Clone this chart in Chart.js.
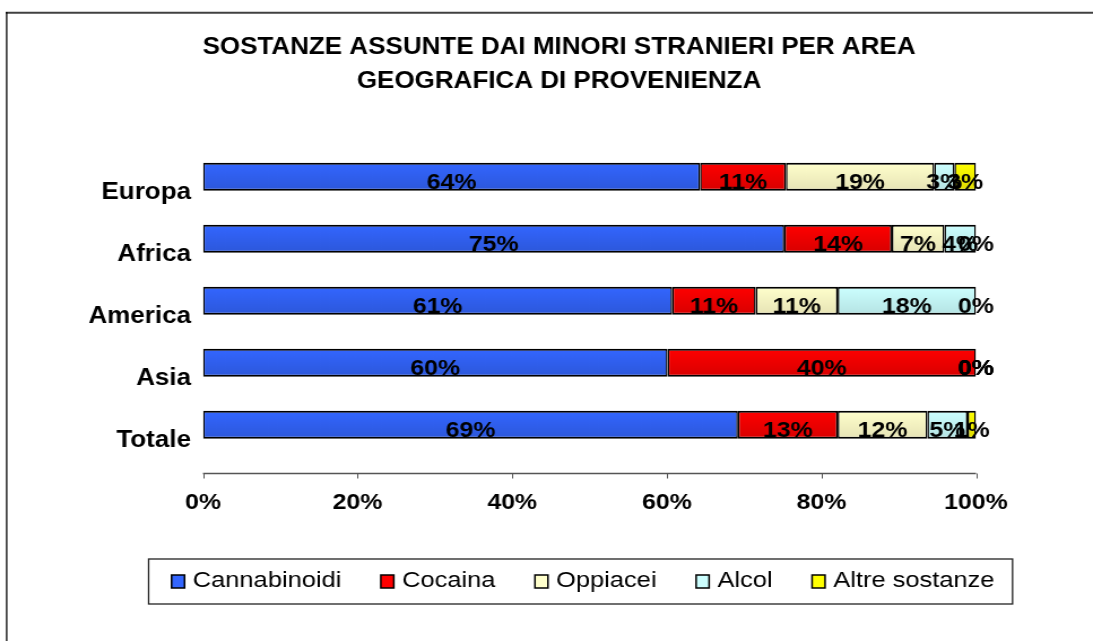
<!DOCTYPE html>
<html lang="it">
<head>
<meta charset="utf-8">
<title>Sostanze assunte dai minori stranieri per area geografica</title>
<script src="https://cdn.jsdelivr.net/npm/chart.js@4.4.1/dist/chart.umd.min.js"></script>
<style>
  html,body{margin:0;padding:0;background:#fff;overflow:hidden}
</style>
</head>
<body>
<!-- il canvas e' largo 967 e viene allargato a 1093 (font "larghi" come nell'originale) -->
<canvas id="grafico" width="967" height="641" style="display:block;width:1093px;height:641px"></canvas>
<script>
// dati (percentuali per area di provenienza)
const aree = ['Europa', 'Africa', 'America', 'Asia', 'Totale'];
const sostanze = ['Cannabinoidi', 'Cocaina', 'Oppiacei', 'Alcol', 'Altre sostanze'];
const cannabinoidi = [64.3, 75.2, 60.7, 60.1, 69.2];
const cocaina      = [11.1, 13.9, 10.8, 39.9, 12.9];
const oppiacei     = [19.2,  6.8, 10.6,  0,   11.6];
const alcol        = [ 2.6,  4.1, 17.9,  0,    5.2];
const altre        = [ 2.8,  0,    0,    0,    1.1];
const tickPerc     = [0, 20, 40, 60, 80, 100];

const serie = [cannabinoidi, cocaina, oppiacei, alcol, altre];
const coloriAlto  = ['#3366FF', '#FF0000', '#FFFFCC', '#CCFFFF', '#FFFF00'];
const coloriBasso = ['#2C57DA', '#D80000', '#E6E3B5', '#B5E3E3', '#DEDA00'];
const FONT = '"Liberation Sans", Arial, sans-serif';

// sfumatura verticale leggera su ogni barra
function sfumatura(i){
  return ctx => {
    const y = ctx.chart.scales.y;
    if(ctx.type !== 'data' || !y) return coloriAlto[i];
    const c = y.getPixelForValue(ctx.dataIndex);
    if(!isFinite(c)) return coloriAlto[i];
    const g = ctx.chart.ctx.createLinearGradient(0, c - 14, 0, c + 14);
    g.addColorStop(0, coloriAlto[i]);
    g.addColorStop(1, coloriBasso[i]);
    return g;
  };
}

// cornice esterna, asse x con tacche, legenda riquadrata
const cornice = {
  id: 'cornice',
  afterLayout(chart){
    // le etichette delle aree escono a sinistra del riquadro dell'asse: niente ritaglio
    chart.scales.y.left = 0;
  },
  beforeDraw(chart){
    const {ctx, width, height} = chart;
    ctx.save();
    ctx.fillStyle = '#fff';
    ctx.fillRect(0, 0, width, height);
    ctx.strokeStyle = '#404040'; ctx.lineWidth = 2;
    ctx.beginPath(); ctx.moveTo(5, 12.7); ctx.lineTo(width, 12.7); ctx.stroke();
    ctx.strokeStyle = '#000'; ctx.lineWidth = 1.3;
    ctx.beginPath(); ctx.moveTo(5.9, 12); ctx.lineTo(5.9, height); ctx.stroke();
    ctx.restore();
  },
  afterDraw(chart){
    const {ctx, chartArea} = chart;
    const x = chart.scales.x;
    const yAsse = chartArea.bottom + 17.7;
    ctx.save();
    ctx.strokeStyle = '#555'; ctx.lineWidth = 1.5;
    ctx.beginPath(); ctx.moveTo(chartArea.left, yAsse); ctx.lineTo(chartArea.right, yAsse); ctx.stroke();
    ctx.lineWidth = 1;
    tickPerc.forEach(v => {
      const px = Math.round(x.getPixelForValue(v)) + 0.5;
      ctx.beginPath(); ctx.moveTo(px, yAsse); ctx.lineTo(px, yAsse + 5); ctx.stroke();
    });

    // legenda
    ctx.font = '22.5px ' + FONT;
    const box = 11.5, gapTesto = 7.3, gapVoci = 35;
    const larghezze = sostanze.map(s => ctx.measureText(s).width);
    const totale = larghezze.reduce((a, b) => a + b, 0) + sostanze.length * (box + gapTesto) + (sostanze.length - 1) * gapVoci;
    let cx = 515.8 - totale / 2;
    const yTesto = 581;
    ctx.strokeStyle = '#222'; ctx.lineWidth = 1.3;
    ctx.strokeRect(cx - 20.3, 559, totale + 20.3 + 16, 45);
    ctx.textAlign = 'left'; ctx.textBaseline = 'middle';
    sostanze.forEach((s, i) => {
      ctx.fillStyle = coloriAlto[i];
      ctx.fillRect(cx, 575, box, 13);
      ctx.strokeStyle = '#000'; ctx.lineWidth = 1.5;
      ctx.strokeRect(cx, 575, box, 13);
      ctx.fillStyle = '#000';
      ctx.fillText(s, cx + box + gapTesto, yTesto);
      cx += box + gapTesto + larghezze[i] + gapVoci;
    });
    ctx.restore();
  }
};

// etichette percentuali dentro le barre
const etichetteValori = {
  id: 'etichetteValori',
  afterDatasetsDraw(chart){
    const {ctx} = chart;
    ctx.save();
    ctx.font = 'bold 22px ' + FONT;
    ctx.fillStyle = '#000';
    ctx.textAlign = 'center';
    ctx.textBaseline = 'middle';
    chart.data.datasets.forEach((ds, i) => {
      chart.getDatasetMeta(i).data.forEach((bar, j) => {
        ctx.fillText(Math.round(ds.data[j]) + '%', (bar.x + bar.base) / 2, bar.y + 6);
      });
    });
    ctx.restore();
  }
};

new Chart(document.getElementById('grafico'), {
  type: 'bar',
  data: {
    labels: aree,
    datasets: serie.map((d, i) => ({
      label: sostanze[i],
      data: d,
      backgroundColor: sfumatura(i),
      borderColor: '#000',
      borderWidth: {top: 2, bottom: 2, left: 1.5, right: 1.5},
      borderSkipped: false,
      barPercentage: 0.45,
      categoryPercentage: 1
    }))
  },
  options: {
    indexAxis: 'y',
    responsive: false,
    devicePixelRatio: 1,
    animation: false,
    layout: {padding: {left: 125.7, right: 103.5, top: 0, bottom: 127.2}},
    plugins: {
      legend: {display: false},
      tooltip: {enabled: false},
      title: {
        display: true,
        text: ['SOSTANZE ASSUNTE DAI MINORI STRANIERI PER AREA', 'GEOGRAFICA DI PROVENIENZA'],
        color: '#000',
        font: {family: FONT, size: 23, weight: 'bold', lineHeight: '34px'},
        padding: {top: 31, bottom: 46.8}
      }
    },
    scales: {
      x: {
        stacked: true, min: 0, max: 100,
        border: {display: false},
        grid: {display: false, drawTicks: false},
        ticks: {
          color: '#000', padding: 34, maxRotation: 0, autoSkip: false,
          font: {family: FONT, size: 22, weight: 'bold'},
          callback: v => v + '%'
        },
        afterBuildTicks: s => { s.ticks = tickPerc.map(v => ({value: v})); },
        afterFit: s => { s.height = 58; s.paddingLeft = 0; s.paddingRight = 0; }
      },
      y: {
        stacked: true, offset: true,
        border: {display: false},
        grid: {display: false, drawTicks: false},
        ticks: {
          color: '#000', padding: 10.6, labelOffset: 16,
          font: {family: FONT, size: 23, weight: 'bold'}
        },
        afterFit: s => { s.width = 53.9; s.paddingTop = 0; s.paddingBottom = 0; }
      }
    }
  },
  plugins: [cornice, etichetteValori]
});
</script>
</body>
</html>
